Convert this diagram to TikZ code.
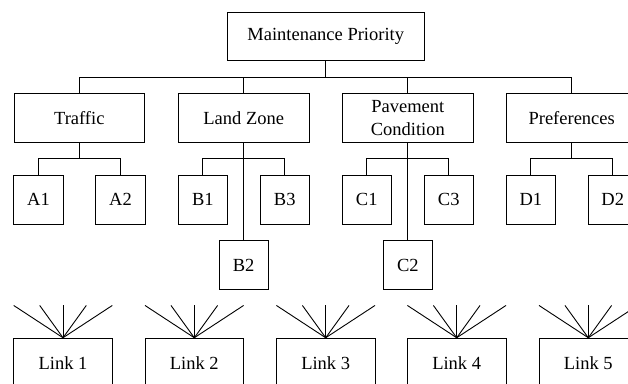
\documentclass[tikz,border=0pt]{standalone}
\usepackage{fontspec}
\setmainfont{Liberation Serif}
\begin{document}
\begin{tikzpicture}[x=1pt,y=-1pt,
  every node/.style={font=\fontsize{18.5}{22.2}\selectfont},
  box/.style={draw, line width=0.9pt, inner sep=0pt, align=center},
  rootbox/.style={box, minimum width=196.7pt, minimum height=48.7pt},
  critbox/.style={box, minimum width=130.7pt, minimum height=48.6pt},
  subbox/.style={box, minimum width=49.5pt, minimum height=49pt},
  linkbox/.style={box, minimum width=98.6pt, minimum height=49pt},
  wire/.style={line width=0.9pt}]
\useasboundingbox (0,0) rectangle (628,383);
\clip (0,0) rectangle (628,383);

% goal
\node[rootbox] (mp) at (325.7,36.3) {Maintenance Priority};

% criteria
\node[critbox] (traffic) at (79.3,118) {Traffic};
\node[critbox] (land)    at (243.7,118) {Land Zone};
\node[critbox] (pave)    at (407.8,118) {Pavement\\Condition};
\node[critbox] (pref)    at (571.7,118) {Preferences};

% sub-criteria
\node[subbox] (a1) at (38.5,199.5) {A1};
\node[subbox] (a2) at (120.5,199.5) {A2};
\node[subbox] (b1) at (202.8,199.5) {B1};
\node[subbox] (b3) at (284.7,199.5) {B3};
\node[subbox] (b2) at (243.7,265) {B2};
\node[subbox] (c1) at (366.7,199.5) {C1};
\node[subbox] (c3) at (448.7,199.5) {C3};
\node[subbox] (c2) at (407.8,265) {C2};
\node[subbox] (d1) at (530.8,199.5) {D1};
\node[subbox] (d2) at (612.7,199.5) {D2};

% alternatives
\node[linkbox] (l1) at (63,362.7) {Link 1};
\node[linkbox] (l2) at (194.3,362.7) {Link 2};
\node[linkbox] (l3) at (325.7,362.7) {Link 3};
\node[linkbox] (l4) at (456.7,362.7) {Link 4};
\node[linkbox] (l5) at (588.3,362.7) {Link 5};

% goal to criteria
\coordinate (j0) at (325.7,77.3);
\draw[wire] (mp.south) -- (j0);
\foreach \n in {traffic,land,pave,pref}
  \draw[wire] (\n.north) |- (j0);

% criteria to sub-criteria
\coordinate (ja) at (79.3,158.3);
\coordinate (jb) at (243.7,158.3);
\coordinate (jc) at (407.8,158.3);
\coordinate (jd) at (571.7,158.3);
\draw[wire] (traffic.south) -- (ja);
\draw[wire] (a1.north) |- (ja) -| (a2.north);
\draw[wire] (land.south) -- (b2.north);
\draw[wire] (b1.north) |- (jb) -| (b3.north);
\draw[wire] (pave.south) -- (c2.north);
\draw[wire] (c1.north) |- (jc) -| (c3.north);
\draw[wire] (pref.south) -- (jd);
\draw[wire] (d1.north) |- (jd) -| (d2.north);

% fans above each alternative
\foreach \n in {l1,l2,l3,l4,l5}{
  \foreach \k/\dx in {1/-49.3,2/-23.3,3/0,4/23.3,5/49.3}{
    \path (\n.north) ++(\dx,-32.3) coordinate (\n f\k);
    \draw[wire] (\n.north) -- (\n f\k);
  }
}
\end{tikzpicture}
\end{document}
